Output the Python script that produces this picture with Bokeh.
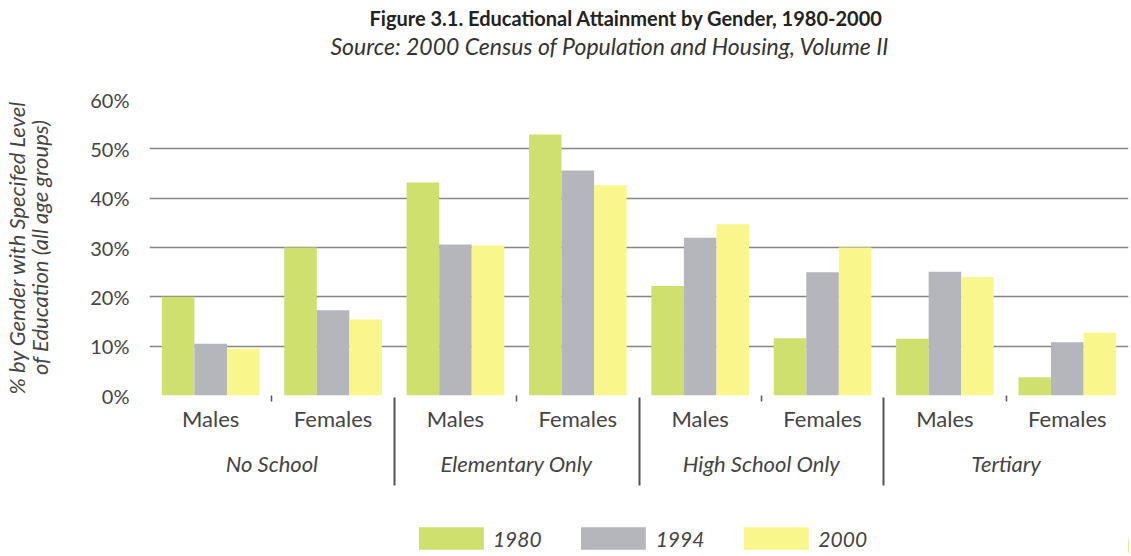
from bokeh.plotting import figure
from bokeh.layouts import column
from bokeh.models import (Range1d, FixedTicker, NumeralTickFormatter, LinearAxis,
                          Legend, LegendItem, Title, ColumnDataSource)
from bokeh.transform import dodge
from bokeh.embed import file_html
from bokeh.resources import INLINE

groups = ["No School", "Elementary Only", "High School Only", "Tertiary"]
genders = ["Males", "Females"]
years = ["1980", "1994", "2000"]
v1980 = [0.20, 0.30, 0.432, 0.529, 0.222, 0.116, 0.115, 0.037]
v1994 = [0.105, 0.173, 0.306, 0.456, 0.32, 0.25, 0.251, 0.108]
v2000 = [0.095, 0.154, 0.304, 0.426, 0.347, 0.30, 0.24, 0.127]
y_ticks = [0, 0.1, 0.2, 0.3, 0.4, 0.5, 0.6]
grid_ticks = [0.1, 0.2, 0.3, 0.4, 0.5]

colors = ["#cfe06e", "#b5b5bc", "#f9f78b"]
FONT = "Lato"
TXT = "#444444"
W = 1130
BL, BR = 149, 2

n_cat = len(groups) * len(genders)
cat_pos = [i + 0.5 for i in range(n_cat)]                         # centre of each gender column
cat_labels = [s for g in groups for s in genders]
grp_pos = [len(genders) * (j + 0.5) for j in range(len(groups))]  # centre of each group
sep_pos = [len(genders) * j for j in range(1, len(groups))]       # group boundaries
mid_pos = [len(genders) * j + 1 for j in range(len(groups))]      # Males/Females boundaries

source = ColumnDataSource(dict(x=cat_pos, y1980=v1980, y1994=v1994, y2000=v2000))
year_cols = ["y1980", "y1994", "y2000"]

# ---------- header with the two titles ----------
head = figure(width=W, height=62, output_backend="svg", toolbar_location=None, title=None,
              x_axis_type=None, y_axis_type=None, x_range=Range1d(0, 1), y_range=Range1d(0, 1),
              min_border_left=BL, min_border_right=BR, min_border_top=60, min_border_bottom=0)
head.outline_line_color = None
head.grid.visible = False
sub = Title(text="Source:  2000 Census of Population and Housing, Volume II", align="left",
            text_font=FONT, text_font_size="23px", text_font_style="italic",
            text_color="#333333", offset=181, standoff=2)
main = Title(text="Figure 3.1. Educational Attainment by Gender, 1980-2000", align="left",
             text_font=FONT, text_font_size="20px", text_font_style="bold",
             text_color="#222222", offset=220, standoff=-3)
head.add_layout(sub, "above")
head.add_layout(main, "above")

# ---------- main chart ----------
p = figure(x_range=Range1d(0, n_cat), y_range=Range1d(0, 0.6), width=W, height=461,
           output_backend="svg", toolbar_location=None, title=None, x_axis_type=None,
           min_border_left=BL, min_border_right=BR, min_border_top=37, min_border_bottom=128)
p.outline_line_color = None

w = 0.266
offsets = [-w, 0, w]
for col, off, c in zip(year_cols, offsets, colors):
    p.vbar(x=dodge("x", off), top=col, width=w, source=source, fill_color=c, line_color=None)

p.xgrid.grid_line_color = None
p.ygrid.ticker = FixedTicker(ticks=grid_ticks)
p.ygrid.grid_line_color = "#858585"
p.ygrid.grid_line_width = 1.5
p.ygrid.level = "underlay"

ya = p.yaxis[0]
ya.ticker = FixedTicker(ticks=y_ticks)
ya.formatter = NumeralTickFormatter(format="0%")
ya.axis_line_color = None
ya.major_tick_line_color = None
ya.minor_tick_line_color = None
ya.major_label_text_font = FONT
ya.major_label_text_font_size = "20px"
ya.major_label_text_color = TXT
ya.major_label_standoff = 14
ya.axis_label = "% by Gender with Specifed Level\nof Education (all age groups)"
ya.axis_label_text_font = FONT
ya.axis_label_text_font_size = "22px"
ya.axis_label_text_font_style = "italic"
ya.axis_label_text_line_height = 0.85
ya.axis_label_text_color = TXT
ya.axis_label_standoff = 34

# x axis 1: Males / Females
xa1 = LinearAxis(ticker=FixedTicker(ticks=cat_pos, minor_ticks=mid_pos),
                 major_label_overrides={x: lab for x, lab in zip(cat_pos, cat_labels)})
xa1.axis_line_color = None
xa1.major_tick_line_color = None
xa1.major_tick_out = 0
xa1.minor_tick_line_color = "#555555"
xa1.minor_tick_line_width = 1.5
xa1.minor_tick_in = 0
xa1.minor_tick_out = 6
xa1.major_label_text_font = FONT
xa1.major_label_text_font_size = "22px"
xa1.major_label_text_color = TXT
xa1.major_label_standoff = 3
p.add_layout(xa1, "below")

# x axis 2: education groups and separators
xa2 = LinearAxis(ticker=FixedTicker(ticks=grp_pos, minor_ticks=sep_pos),
                 major_label_overrides={x: lab for x, lab in zip(grp_pos, groups)})
xa2.axis_line_color = None
xa2.major_tick_line_color = None
xa2.major_tick_out = 0
xa2.minor_tick_line_color = "#555555"
xa2.minor_tick_line_width = 2
xa2.minor_tick_in = 37
xa2.minor_tick_out = 51
xa2.major_label_text_font = FONT
xa2.major_label_text_font_size = "22px"
xa2.major_label_text_font_style = "italic"
xa2.major_label_text_color = TXT
xa2.major_label_standoff = -36
p.add_layout(xa2, "below")

# ---------- legend strip ----------
leg = figure(width=W, height=30, output_backend="svg", toolbar_location=None, title=None,
             x_axis_type=None, y_axis_type=None, x_range=Range1d(-2, -1), y_range=Range1d(0, 1),
             min_border_left=BL - 22, min_border_right=BR, min_border_top=0, min_border_bottom=0)
leg.outline_line_color = None
leg.grid.visible = False
items = []
for yr, col, c in zip(years, year_cols, colors):
    r = leg.vbar(x="x", top=col, width=w, source=source, fill_color=c, line_color=None)
    items.append(LegendItem(label=yr, renderers=[r]))
legend = Legend(items=items, orientation="horizontal", location="center",
                glyph_width=81, glyph_height=28, label_standoff=2, spacing=31,
                label_text_font=FONT, label_text_font_size="21px",
                label_text_font_style="italic", label_text_color=TXT,
                border_line_color=None, background_fill_alpha=0, padding=0, margin=0)
leg.add_layout(legend)

open("out.html", "w").write(file_html(column(head, p, leg), INLINE))
